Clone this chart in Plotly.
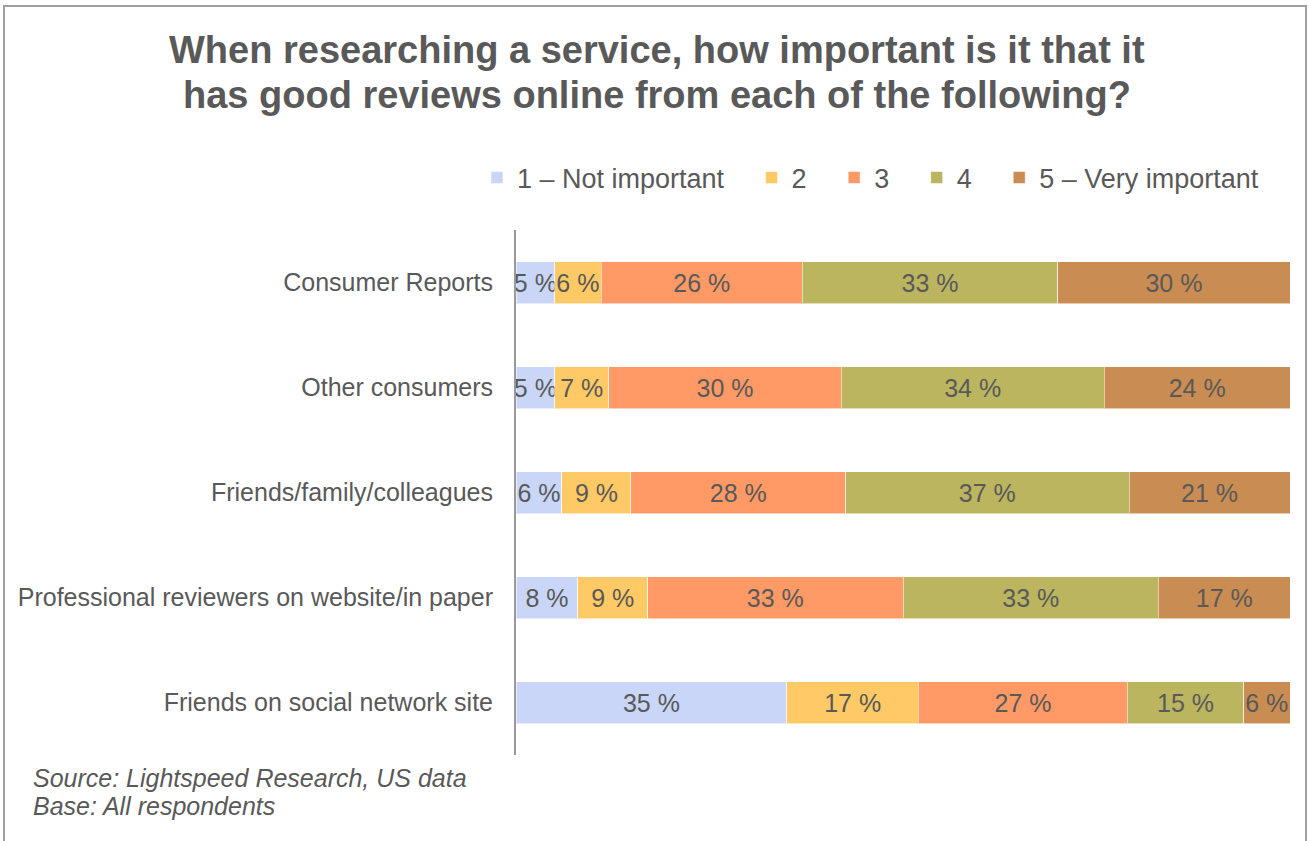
import plotly.graph_objects as go

# Survey rows (top to bottom) and answer shares per rating
categories = [
    "Consumer Reports",
    "Other consumers",
    "Friends/family/colleagues",
    "Professional reviewers on website/in paper",
    "Friends on social network site",
]
rating_labels = ["1 – Not important", "2", "3", "4", "5 – Very important"]
rating_1 = [5, 5, 6, 8, 35]
rating_2 = [6, 7, 9, 9, 17]
rating_3 = [26, 30, 28, 33, 27]
rating_4 = [33, 34, 37, 33, 15]
rating_5 = [30, 24, 21, 17, 6]

series = [rating_1, rating_2, rating_3, rating_4, rating_5]
colors = ["#C9D6F8", "#FFCA66", "#FF9966", "#BBB560", "#C98C52"]

W, H = 1309, 841
L, R, T, B = 516, 19, 230, 86
plot_w = W - L - R
plot_h = H - T - B
TEXT = "#595959"
FONT = "Liberation Sans, Arial, sans-serif"


def px_x(x):
    return (x - L) / plot_w


def px_y(y):
    return (H - B - y) / plot_h


# pad legend names so the entries spread out across the row
pads = [3, 3, 3, 3, 0]

fig = go.Figure()
for name, vals, col, pad in zip(rating_labels, series, colors, pads):
    fig.add_trace(go.Bar(
        y=categories,
        x=vals,
        name=name + "\u00a0" * pad,
        orientation="h",
        marker=dict(color=col, line=dict(color="rgba(255,255,255,0.55)", width=1)),
        text=[f"{v} %" for v in vals],
        textposition="inside",
        insidetextanchor="middle",
        textangle=0,
        constraintext="none",
        textfont=dict(size=25, color=TEXT, family=FONT),
        cliponaxis=False,
        hoverinfo="skip",
    ))

annotations = [
    dict(text="<b>When researching a service, how important is it that it</b>",
         x=px_x(657), y=px_y(50), xref="paper", yref="paper",
         xanchor="center", yanchor="middle", showarrow=False,
         font=dict(size=38, color=TEXT, family=FONT)),
    dict(text="<b>has good reviews online from each of the following?</b>",
         x=px_x(657), y=px_y(95), xref="paper", yref="paper",
         xanchor="center", yanchor="middle", showarrow=False,
         font=dict(size=38, color=TEXT, family=FONT)),
    dict(text="<i>Source: Lightspeed Research, US data</i>",
         x=px_x(31), y=px_y(778), xref="paper", yref="paper",
         xanchor="left", yanchor="middle", showarrow=False,
         font=dict(size=25, color=TEXT, family=FONT)),
    dict(text="<i>Base: All respondents</i>",
         x=px_x(31), y=px_y(806), xref="paper", yref="paper",
         xanchor="left", yanchor="middle", showarrow=False,
         font=dict(size=25, color=TEXT, family=FONT)),
]

fig.update_layout(
    width=W, height=H,
    margin=dict(l=L, r=R, t=T, b=B),
    barmode="stack",
    barnorm="percent",
    bargap=0.6,
    plot_bgcolor="white",
    paper_bgcolor="white",
    font=dict(family=FONT, color=TEXT),
    uniformtext=dict(minsize=25, mode="show"),
    showlegend=True,
    legend=dict(
        orientation="h",
        x=px_x(477), xanchor="left",
        y=px_y(178), yanchor="middle",
        font=dict(size=27, color=TEXT, family=FONT),
        traceorder="normal",
        itemclick=False,
    ),
    xaxis=dict(range=[0, 100], visible=False, fixedrange=True),
    yaxis=dict(
        autorange="reversed",
        showline=True, linecolor="#999999", linewidth=2,
        ticks="", ticklabelstandoff=16,
        tickfont=dict(size=25, color=TEXT, family=FONT),
        showgrid=False, zeroline=False, fixedrange=True,
    ),
    annotations=annotations,
    shapes=[
        dict(type="rect", xref="paper", yref="paper",
             x0=px_x(4), x1=px_x(1306), y0=px_y(900), y1=px_y(6),
             line=dict(color="#A0A0A0", width=2), fillcolor="rgba(0,0,0,0)",
             layer="below"),
    ],
)

fig.write_html("out.html")
